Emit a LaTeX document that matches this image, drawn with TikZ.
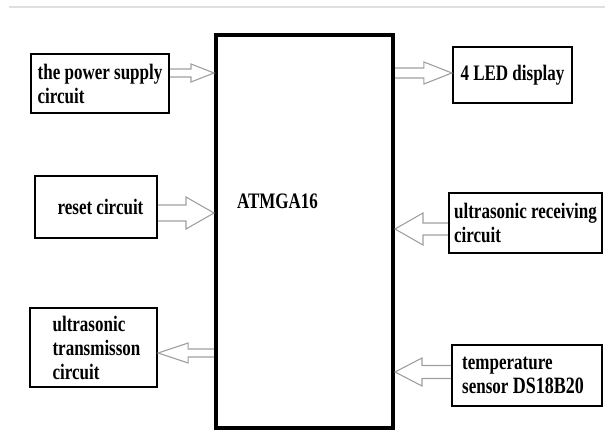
\documentclass[tikz,border=0pt]{standalone}
\usepackage{graphicx}
\usepackage{fontspec}
\setmainfont{Liberation Serif}
\usetikzlibrary{calc}
\newcommand\tallword[1]{\scalebox{1}[1.3]{#1}}
\tikzset{
  blockbox/.style={draw=black, line width=2.2pt, align=left, inner sep=2pt,
    font=\bfseries\fontsize{17}{24}\selectfont},
  mcubox/.style={draw=black, line width=4pt, minimum width=177pt, minimum height=393pt},
  mculabel/.style={font=\bfseries\fontsize{17}{24}\selectfont},
  hollow/.style n args={3}{draw=gray!75, line width=1.1pt, line join=miter,
    to path={let \p1=(\tikztostart), \p2=(\tikztotarget),
      \n1={\x2-sign(\x2-\x1)*#3pt} in
      (\x1,\y1+#1pt) -- (\n1,\y1+#1pt) -- (\n1,\y1+#2pt) -- (\x2,\y1)
      -- (\n1,\y1-#2pt) -- (\n1,\y1-#1pt) -- (\x1,\y1-#1pt)}}
}
\begin{document}
\begin{tikzpicture}[x=1pt, y=-1pt]
  \useasboundingbox (0,0) rectangle (605,435);
  \draw[gray!25, line width=2pt] (9,7) -- (605,7);
  % controller
  \node[mcubox] (atm) at (304.5,231.5) {};
  \node[mculabel] (chip) at (277.5,201) {\tallword{ATMGA16}};
  % left column
  \node[blockbox, minimum width=138pt, minimum height=59pt] (psu) at (100,83.5)
    {\tallword{the power supply}\\\tallword{circuit}};
  \node[blockbox, minimum width=122pt, minimum height=62pt] (rst) at (96,207)
    {\hspace*{9pt}\tallword{reset circuit}};
  \node[blockbox, minimum width=127pt, minimum height=79pt] (tx) at (93.5,347.5)
    {\hspace*{6pt}\tallword{ultrasonic}\\\hspace*{6pt}\tallword{transmisson}\\\hspace*{6pt}\tallword{circuit}};
  % right column
  \node[blockbox, minimum width=119pt, minimum height=56pt] (led) at (512.5,75)
    {\tallword{4 LED display}};
  \node[blockbox, minimum width=153pt, minimum height=60pt] (rx) at (525.5,223)
    {\tallword{ultrasonic receiving}\\\tallword{circuit}};
  \node[blockbox, minimum width=150pt, minimum height=61pt] (temp) at (527,375.5)
    {\tallword{temperature}\\\tallword{sensor {\fontsize{18}{24}\selectfont DS18B20}}\hspace*{8pt}};
  % hollow arrows
  \draw[hollow={4}{9}{23}] ($(psu.east)+(0,-10.5)$) to (atm.west);
  \draw[hollow={8}{16}{28}] ($(rst.east)+(0,6)$) to (atm.west);
  \draw[hollow={4}{10}{30}] ($(atm.west |- tx.east)+(0,5.5)$) to (tx.east);
  \draw[hollow={5}{11}{28}] ($(atm.east |- led.west)+(0,-2)$) to (led.west);
  \draw[hollow={6}{16}{28}] ($(rx.west)+(0,6)$) to (atm.east);
  \draw[hollow={6.5}{14}{27}] ($(temp.west)+(0,-3.5)$) to (atm.east);
\end{tikzpicture}
\end{document}
